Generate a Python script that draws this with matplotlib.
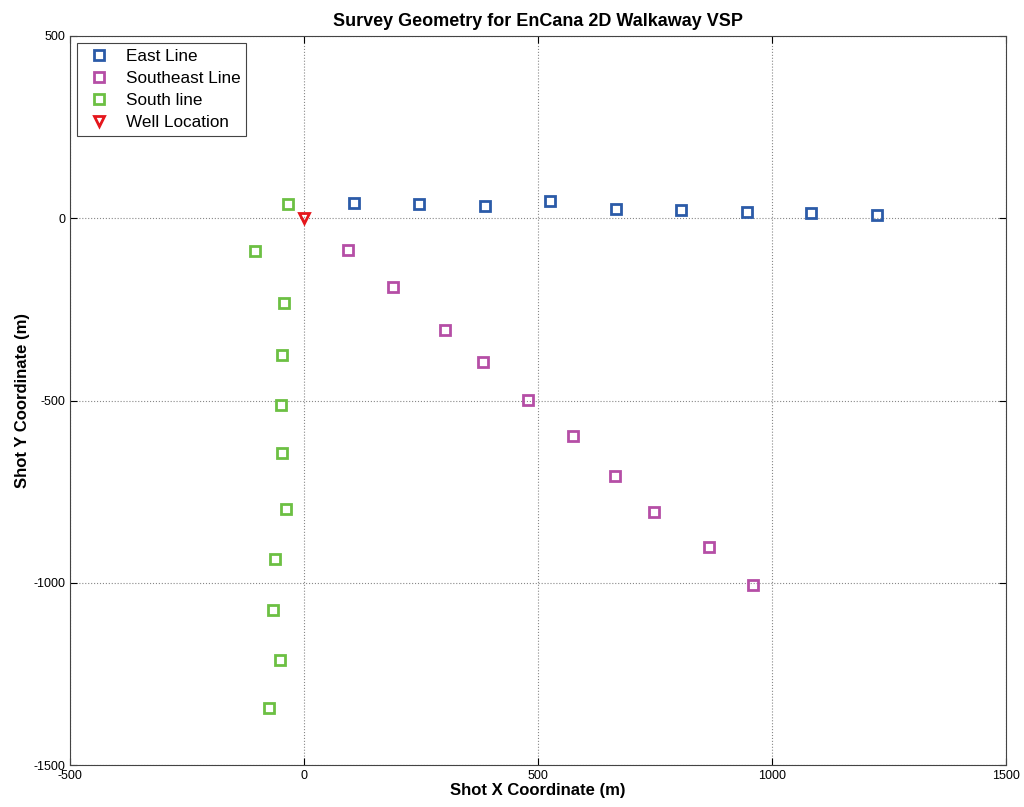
import matplotlib
matplotlib.use("Agg")
import matplotlib.pyplot as plt

plt.rcParams['font.family'] = ['Liberation Sans', 'DejaVu Sans']
plt.rcParams['axes.unicode_minus'] = False

# --- Shot positions (m) ---
east_x = [107, 246, 387, 526, 667, 806, 947, 1085, 1226]
east_y = [41, 38, 33, 47, 25, 22, 16, 14, 8]

southeast_x = [94, 190, 301, 382, 479, 575, 665, 748, 865, 959]
southeast_y = [-88, -189, -307, -395, -499, -598, -708, -807, -903, -1007]

south_x = [-34, -105, -43, -47, -49, -47, -38, -62, -66, -51, -75]
south_y = [38, -91, -233, -376, -513, -645, -798, -936, -1075, -1213, -1344]

well_x = [0]
well_y = [0]

fig = plt.figure(figsize=(10.24, 8.07), dpi=100)
ax = fig.add_axes([0.0684, 0.052, 0.9136, 0.9034])

ms = 7
mew = 2
ax.plot(east_x, east_y, 's', ms=ms, mfc='none', mec='#2b5ba8', mew=mew, label='East Line')
ax.plot(southeast_x, southeast_y, 's', ms=ms, mfc='none', mec='#b54ea6', mew=mew, label='Southeast Line')
ax.plot(south_x, south_y, 's', ms=ms, mfc='none', mec='#6cc043', mew=mew, label='South line')
ax.plot(well_x, well_y, 'v', ms=ms, mfc='none', mec='#e5161c', mew=mew, label='Well Location')

ax.set_xlim(-500, 1500)
ax.set_ylim(-1500, 500)
ax.set_xticks([-500, 0, 500, 1000, 1500])
ax.set_yticks([-1500, -1000, -500, 0, 500])
ax.grid(True, linestyle=':', color='#888888', linewidth=0.8)
ax.tick_params(direction='in', length=5, labelsize=9, top=True, right=True)
for s in ax.spines.values():
    s.set_color('#444444')

ax.set_title('Survey Geometry for EnCana 2D Walkaway VSP', fontsize=13, fontweight='bold', pad=7)
ax.set_xlabel('Shot X Coordinate (m)', fontsize=12, fontweight='bold', labelpad=1)
ax.set_ylabel('Shot Y Coordinate (m)', fontsize=12, fontweight='bold', labelpad=2)

leg = ax.legend(loc='upper left', fontsize=12.3, fancybox=False, framealpha=1,
                edgecolor='#444444', borderaxespad=0.4, handletextpad=0.6,
                handlelength=1.9, labelspacing=0.42, borderpad=0.35)
leg.get_frame().set_linewidth(0.8)

fig.savefig('out.png', dpi=100)
